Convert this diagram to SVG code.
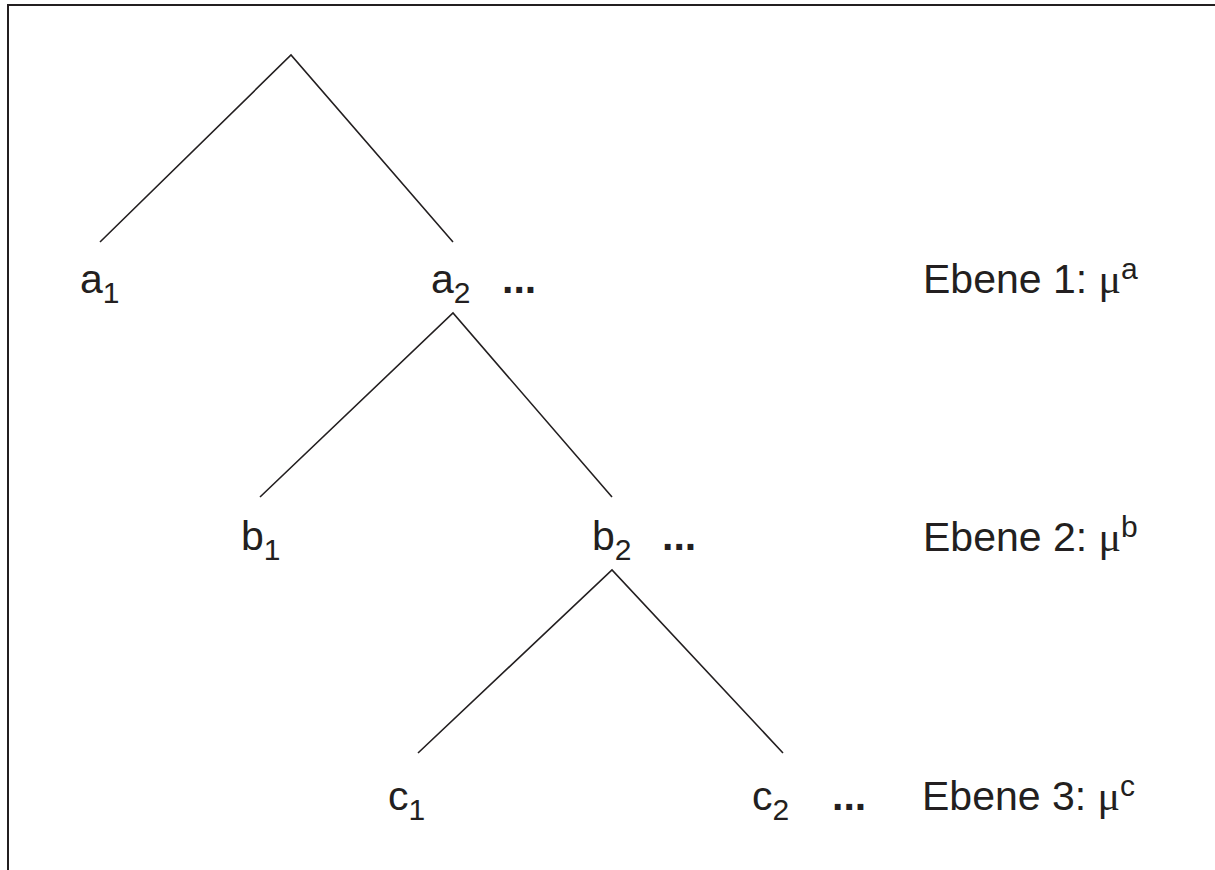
<svg xmlns="http://www.w3.org/2000/svg" width="1215" height="870" viewBox="0 0 1215 870">
<style>
.t{font-family:"Liberation Sans",Arial,sans-serif;font-size:41px;fill:#231f20}
.s{font-size:30px}
.d{font-weight:bold}
.m{font-family:"Liberation Serif","DejaVu Serif",serif;font-size:42px}
.e{fill:none;stroke:#231f20;stroke-width:1.6}
</style>
<rect width="1215" height="870" fill="#fff"/>
<path d="M8 870V5H1215" fill="none" stroke="#231f20" stroke-width="2"/>
<g id="connectors">
<path class="e" d="M100 242L291 55L453 242"/>
<path class="e" d="M260 497L453 313L612 497"/>
<path class="e" d="M418 753L612 570L783 753"/>
</g>
<g id="a1"><text class="t" x="80" y="293">a<tspan class="s" dy="10">1</tspan></text></g>
<g id="a2"><text class="t" x="431" y="293">a<tspan class="s" dy="10">2</tspan></text><text class="t d" x="502" y="293">...</text></g>
<g id="b1"><text class="t" x="241" y="550">b<tspan class="s" dy="10">1</tspan></text></g>
<g id="b2"><text class="t" x="592" y="550">b<tspan class="s" dy="10">2</tspan></text><text class="t d" x="662" y="550">...</text></g>
<g id="c1"><text class="t" x="388" y="810">c<tspan class="s" dy="10">1</tspan></text></g>
<g id="c2"><text class="t" x="752" y="810">c<tspan class="s" dy="10">2</tspan></text><text class="t d" x="832" y="810">...</text></g>
<g id="level1"><text class="t" x="923" y="293">Ebene 1: <tspan class="m">μ</tspan><tspan class="s" dy="-14">a</tspan></text></g>
<g id="level2"><text class="t" x="923" y="551">Ebene 2: <tspan class="m">μ</tspan><tspan class="s" dy="-14">b</tspan></text></g>
<g id="level3"><text class="t" x="922" y="810">Ebene 3: <tspan class="m">μ</tspan><tspan class="s" dy="-14">c</tspan></text></g>
</svg>
